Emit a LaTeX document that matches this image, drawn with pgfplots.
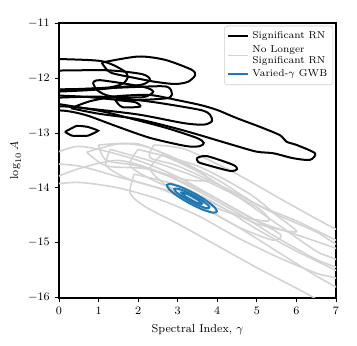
\documentclass[border=0pt]{standalone}
\usepackage{pgfplots}
\pgfplotsset{compat=1.18}
\definecolor{RNgray}{HTML}{D3D3D3}
\definecolor{GWBblue}{HTML}{1F77B4}
\definecolor{LegEdge}{HTML}{CCCCCC}

\begin{document}
\begin{tikzpicture}
\begin{axis}[
  name=main,
  scale only axis,
  width=194pt,height=192.5pt,
  xmin=0,xmax=7,ymin=-16,ymax=-11,
  xtick={0,1,...,7},ytick={-16,-15,...,-11},
  tick align=outside,tick pos=left,
  major tick length=3pt,
  axis line style={line width=0.9pt},
  tick style={line width=0.6pt,black},
  tick label style={font=\footnotesize},
  label style={font=\footnotesize},
  xlabel={Spectral Index, $\gamma$},
  ylabel={$\log_{10} A$},
  ylabel style={yshift=-2pt},
  legend style={font=\scriptsize,at={(0.99,0.99)},anchor=north east,
    draw=LegEdge,rounded corners=2pt,fill=white,fill opacity=0.8,text opacity=1,
    cells={align=left,anchor=west},row sep=-1pt,inner sep=2pt},
  legend image code/.code={\draw[#1] (0cm,0cm) -- (0.5cm,0cm);},
  every axis plot/.append style={smooth,tension=0.45}
]
\addlegendimage{black,line width=1.4pt}
\addlegendentry{Significant RN}
\addlegendimage{RNgray,line width=1.2pt}
\addlegendentry{No Longer\\Significant RN}
\addlegendimage{GWBblue,line width=1.4pt}
\addlegendentry{Varied-$\gamma$ GWB}

% no longer significant red noise
\addplot[RNgray,line width=1.1pt,forget plot] coordinates {
 (1.0,-13.22)(2.0,-13.2)(3.0,-13.5)(4.0,-13.85)(5.0,-14.3)(6.0,-14.6)(7.0,-14.95)(7.8,-15.2)
 (7.8,-15.35)(7.0,-15.1)(6.0,-14.85)(5.0,-14.6)(4.0,-14.2)(3.0,-13.85)(2.0,-13.6)(1.2,-13.5)(1.0,-13.22)};
\addplot[RNgray,line width=1.1pt,forget plot] coordinates {
 (-0.4,-13.45)(0.4,-13.25)(1.0,-13.3)(2.0,-13.5)(3.0,-13.8)(4.0,-14.2)(5.0,-14.6)(5.6,-14.85)
 (5.4,-14.95)(4.5,-14.7)(3.5,-14.3)(2.5,-14.0)(1.5,-13.8)(0.5,-13.6)(-0.4,-13.55)};
\addplot[RNgray,line width=1.1pt,forget plot] coordinates {
 (-0.4,-13.9)(0.5,-13.65)(1.5,-13.5)(2.5,-13.7)(3.5,-14.05)(4.5,-14.45)(5.5,-14.9)(6.5,-15.3)(7.0,-15.44)(7.8,-15.65)
 (7.8,-15.85)(7.0,-15.64)(6.5,-15.55)(5.5,-15.25)(4.5,-14.9)(3.5,-14.5)(2.5,-14.2)(1.5,-14.0)(0.5,-13.9)(-0.4,-13.95)};
\addplot[RNgray,line width=1.1pt,forget plot] coordinates {
 (1.9,-13.75)(3.0,-13.95)(4.0,-14.3)(5.0,-14.75)(6.0,-15.15)(7.0,-15.5)(7.8,-15.8)
 (7.8,-16.6)(6.4,-15.98)(5.0,-15.45)(4.0,-15.05)(3.0,-14.65)(2.2,-14.35)(1.8,-14.1)(1.9,-13.75)};
\addplot[RNgray,line width=1.1pt,forget plot] coordinates {
 (2.6,-13.4)(3.5,-13.7)(4.5,-14.15)(5.5,-14.65)(6.5,-15.15)(7.0,-15.3)(7.8,-15.6)
 (7.8,-16.1)(7.0,-15.8)(6.5,-15.6)(5.5,-15.15)(4.5,-14.7)(3.5,-14.3)(2.7,-13.95)(2.3,-13.65)(2.6,-13.4)};
\addplot[RNgray,line width=1.1pt,forget plot] coordinates {
 (1.3,-13.3)(2.5,-13.55)(3.8,-13.9)(5.0,-14.35)(5.3,-14.6)(4.5,-14.5)(3.0,-14.1)(1.8,-13.85)(1.2,-13.6)(1.3,-13.3)};
\addplot[RNgray,line width=1.1pt,forget plot] coordinates {
 (2.0,-13.3)(3.5,-13.6)(4.8,-14.1)(5.5,-14.5)(6.0,-14.8)(5.0,-14.65)(3.8,-14.25)(2.5,-13.9)(1.8,-13.6)(2.0,-13.3)};
\addplot[RNgray,line width=1.1pt,forget plot] coordinates {
 (2.4,-13.22)(3.2,-13.3)(4.5,-13.75)(5.6,-14.2)(6.6,-14.6)(7.0,-14.75)(7.8,-15.0)
 (7.8,-15.25)(7.0,-15.02)(6.5,-14.8)(5.4,-14.45)(4.2,-14.0)(3.0,-13.6)(2.3,-13.45)(2.4,-13.22)};
\addplot[RNgray,line width=1.1pt,forget plot] coordinates {
 (0.7,-13.35)(1.5,-13.2)(2.2,-13.25)(3.2,-13.55)(3.8,-13.85)(3.2,-13.85)(2.2,-13.65)(1.2,-13.6)(0.7,-13.35)};

% significant red noise
\addplot[black,line width=1.4pt,forget plot] coordinates {
 (-0.4,-11.65)(1.04,-11.69)(1.62,-11.86)(1.74,-11.98)(1.62,-12.1)(1.29,-12.17)(0.53,-12.2)(-0.4,-12.21)};
\addplot[black,line width=1.4pt,forget plot] coordinates {
 (-0.4,-11.87)(1.2,-11.86)(2.1,-11.93)(2.3,-12.03)(2.1,-12.12)(1.5,-12.17)(0.8,-12.22)(-0.4,-12.26)};
\addplot[black,line width=1.4pt,forget plot] coordinates {
 (1.08,-11.72)(2.0,-11.61)(2.68,-11.67)(3.35,-11.85)(3.44,-11.95)(3.26,-12.07)(2.93,-12.11)(2.43,-12.07)(1.92,-12.0)(1.3,-11.9)(1.08,-11.72)};
\addplot[black,line width=1.4pt,forget plot] coordinates {
 (0.86,-12.09)(1.04,-12.04)(2.12,-12.16)(2.38,-12.25)(2.12,-12.35)(1.29,-12.33)(0.96,-12.22)(0.86,-12.09)};
\addplot[black,line width=1.4pt,forget plot] coordinates {
 (-0.4,-12.23)(1.04,-12.19)(2.55,-12.15)(2.8,-12.19)(2.85,-12.31)(2.72,-12.37)(2.05,-12.4)(1.54,-12.4)(0.61,-12.34)(-0.4,-12.31)};
\addplot[black,line width=1.4pt,forget plot] coordinates {
 (1.42,-12.4)(1.92,-12.44)(2.05,-12.52)(1.6,-12.53)(1.42,-12.4)};
\addplot[black,line width=1.4pt,forget plot] coordinates {
 (-0.4,-12.37)(1.04,-12.34)(2.3,-12.43)(3.56,-12.58)(3.82,-12.67)(3.86,-12.79)(3.65,-12.85)(3.14,-12.82)(2.05,-12.67)(1.04,-12.58)(0.19,-12.52)(-0.4,-12.51)};
\addplot[black,line width=1.4pt,forget plot] coordinates {
 (0.3,-12.55)(0.8,-12.42)(1.5,-12.33)(2.3,-12.31)(2.97,-12.4)(3.56,-12.49)(3.99,-12.58)(4.49,-12.73)(5.08,-12.89)(5.58,-13.04)(5.75,-13.16)(6.01,-13.22)(6.47,-13.37)
 (6.34,-13.49)(5.92,-13.46)(5.42,-13.37)(4.99,-13.34)(4.4,-13.22)(3.98,-13.13)(3.56,-13.04)(2.97,-12.92)(2.0,-12.75)(1.0,-12.65)(0.3,-12.55)};
\addplot[black,line width=1.4pt,forget plot] coordinates {
 (-0.4,-12.43)(1.04,-12.6)(1.88,-12.75)(2.72,-12.91)(3.48,-13.09)(3.66,-13.18)(3.56,-13.24)(3.22,-13.24)(2.3,-13.09)(1.46,-12.88)(0.7,-12.68)(0.19,-12.6)(-0.4,-12.58)};
\addplot[black,line width=1.4pt,forget plot,tension=0.2] coordinates {
 (0.15,-12.98)(0.45,-12.87)(0.73,-12.89)(0.99,-12.96)(0.73,-13.05)(0.33,-13.05)(0.15,-12.98)};
\addplot[black,line width=1.4pt,forget plot] coordinates {
 (3.48,-13.46)(3.73,-13.42)(4.4,-13.58)(4.5,-13.66)(4.32,-13.69)(3.73,-13.58)(3.52,-13.53)(3.48,-13.46)};

% varied-gamma GWB
\addplot[GWBblue,line width=1.4pt,forget plot] coordinates {
 (3.995,-14.438)(3.943,-14.361)(3.735,-14.238)(3.427,-14.103)(3.101,-13.991)(2.845,-13.933)
 (2.727,-13.944)(2.779,-14.021)(2.987,-14.144)(3.295,-14.279)(3.621,-14.391)(3.877,-14.449)(3.995,-14.438)};
\addplot[GWBblue,line width=1.4pt,forget plot] coordinates {
 (3.806,-14.364)(3.767,-14.313)(3.620,-14.229)(3.403,-14.135)(3.175,-14.056)(2.997,-14.013)
 (2.916,-14.018)(2.955,-14.069)(3.102,-14.153)(3.319,-14.247)(3.547,-14.326)(3.725,-14.369)(3.806,-14.364)};
\addplot[GWBblue,line width=1.6pt,forget plot] coordinates {
 (3.628,-14.295)(3.515,-14.215)(3.248,-14.111)(3.094,-14.087)(3.207,-14.167)(3.474,-14.271)(3.628,-14.295)};
\end{axis}
\path (main.south west) ++(-41.3pt,-33.6pt) coordinate (bbl);
\path (main.north east) ++(14.7pt,16.1pt) coordinate (bbr);
\path (bbl) rectangle (bbr);
\end{tikzpicture}
\end{document}
